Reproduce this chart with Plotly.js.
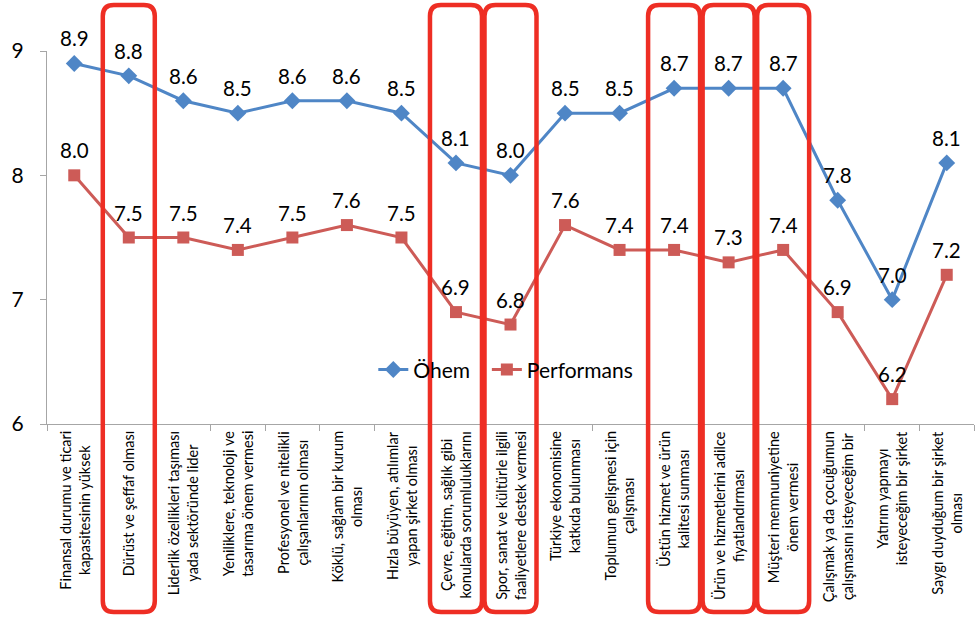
<!DOCTYPE html>
<html>
<head>
<meta charset="utf-8">
<script src="https://cdn.plot.ly/plotly-3.0.1.min.js"></script>
<style>html,body{margin:0;padding:0;background:#fff;}#chart{width:978px;height:617px;}</style>
</head>
<body>
<div id="chart"></div>
<script>
const categories = [
  "Finansal durumu ve ticari<br>kapasitesinin yüksek",
  "Dürüst ve şeffaf olması",
  "Liderlik özellikleri taşıması<br>yada sektöründe lider",
  "Yeniliklere, teknoloji ve<br>tasarıma önem vermesi",
  "Profesyonel ve nitelikli<br>çalışanlarının olması",
  "Köklü, sağlam bir kurum<br>olması",
  "Hızla büyüyen, atılımlar<br>yapan şirket olması",
  "Çevre, eğitim, sağlık gibi<br>konularda sorumluluklarını",
  "Spor, sanat ve kültürle ilgili<br>faaliyetlere destek vermesi",
  "Türkiye ekonomisine<br>katkıda bulunması",
  "Toplumun gelişmesi için<br>çalışması",
  "Üstün hizmet ve ürün<br>kalitesi sunması",
  "Ürün ve hizmetlerini adilce<br>fiyatlandırması",
  "Müşteri memnuniyetine<br>önem vermesi",
  "Çalışmak ya da çocuğumun<br>çalışmasını isteyeceğim bir",
  "Yatırım yapmayı<br>isteyeceğim bir şirket",
  "Saygı duyduğum bir şirket<br>olması"
];
const onem = [8.9, 8.8, 8.6, 8.5, 8.6, 8.6, 8.5, 8.1, 8.0, 8.5, 8.5, 8.7, 8.7, 8.7, 7.8, 7.0, 8.1];
const performans = [8.0, 7.5, 7.5, 7.4, 7.5, 7.6, 7.5, 6.9, 6.8, 7.6, 7.4, 7.4, 7.3, 7.4, 6.9, 6.2, 7.2];
const yTicks = [6, 7, 8, 9];
const highlighted = [1, 7, 8, 11, 12, 13];

const FONT = "Lato, 'Open Sans', sans-serif";

const traces = [
  {
    x: categories, y: onem, name: "Öhem", type: "scatter", mode: "lines+markers", legend: "legend",
    line: {color: "#4F86C6", width: 3},
    marker: {symbol: "diamond", size: 13, color: "#4F86C6"}
  },
  {
    x: categories, y: performans, name: "Performans", type: "scatter", mode: "lines+markers", legend: "legend2",
    line: {color: "#CD5B57", width: 3},
    marker: {symbol: "square", size: 12, color: "#CD5B57"}
  }
];

const n = categories.length;
const hw = 26 / 927, rx = 11 / 927, y0 = -0.504, y1 = 1.123, ry = 11 / 373;
const shapes = highlighted.map(i => {
  const c = (i + 0.5) / n, x0 = c - hw, x1 = c + hw;
  const p = `M ${x0 + rx},${y1} L ${x1 - rx},${y1} Q ${x1},${y1} ${x1},${y1 - ry} L ${x1},${y0 + ry} Q ${x1},${y0} ${x1 - rx},${y0} L ${x0 + rx},${y0} Q ${x0},${y0} ${x0},${y0 + ry} L ${x0},${y1 - ry} Q ${x0},${y1} ${x0 + rx},${y1} Z`;
  return {type: "path", xref: "paper", yref: "paper", path: p, line: {color: "#EE2E24", width: 4.5}, layer: "above"};
});

const xLabels = categories.map(c => ({
  x: c, xref: "x", y: 0, yref: "paper", yanchor: "top", xanchor: "center",
  yshift: -5, textangle: -90, align: "center", showarrow: false, text: c,
  font: {family: FONT, size: 14.5, color: "#000"}
}));

function valueLabels(vals) {
  return vals.map((v, i) => ({
    x: categories[i], xref: "x", y: v, yref: "y", xanchor: "center", yanchor: "bottom",
    yshift: 11, showarrow: false, text: v.toFixed(1),
    font: {family: FONT, size: 20.5, color: "#000"}
  }));
}

const legendBase = {orientation: "h", xanchor: "left", y: 0.145, yanchor: "middle",
  font: {family: FONT, size: 21, color: "#000"}, bgcolor: "rgba(0,0,0,0)"};

const layout = {
  width: 978, height: 617,
  margin: {l: 47, r: 4, t: 51, b: 193},
  paper_bgcolor: "#fff", plot_bgcolor: "#fff",
  showlegend: true,
  legend: Object.assign({}, legendBase, {x: 0.352}),
  legend2: Object.assign({}, legendBase, {x: 0.4745}),
  xaxis: {type: "category", range: [-0.5, n - 0.5], showticklabels: false, showgrid: false, zeroline: false,
    showline: true, linecolor: "#A6A6A6", linewidth: 1, ticks: "outside", tickson: "boundaries",
    ticklen: 6, tickcolor: "#A6A6A6"},
  yaxis: {range: [6, 9], tickvals: yTicks, ticktext: yTicks.map(String), showgrid: false, zeroline: false,
    showline: true, linecolor: "#A6A6A6", linewidth: 1, ticks: "outside", ticklen: 6, tickcolor: "#A6A6A6",
    ticklabelstandoff: 12, tickfont: {family: FONT, size: 21, color: "#000"}},
  shapes: shapes,
  annotations: xLabels.concat(valueLabels(onem), valueLabels(performans))
};

Plotly.newPlot("chart", traces, layout, {displayModeBar: false, staticPlot: true});
</script>
</body>
</html>
